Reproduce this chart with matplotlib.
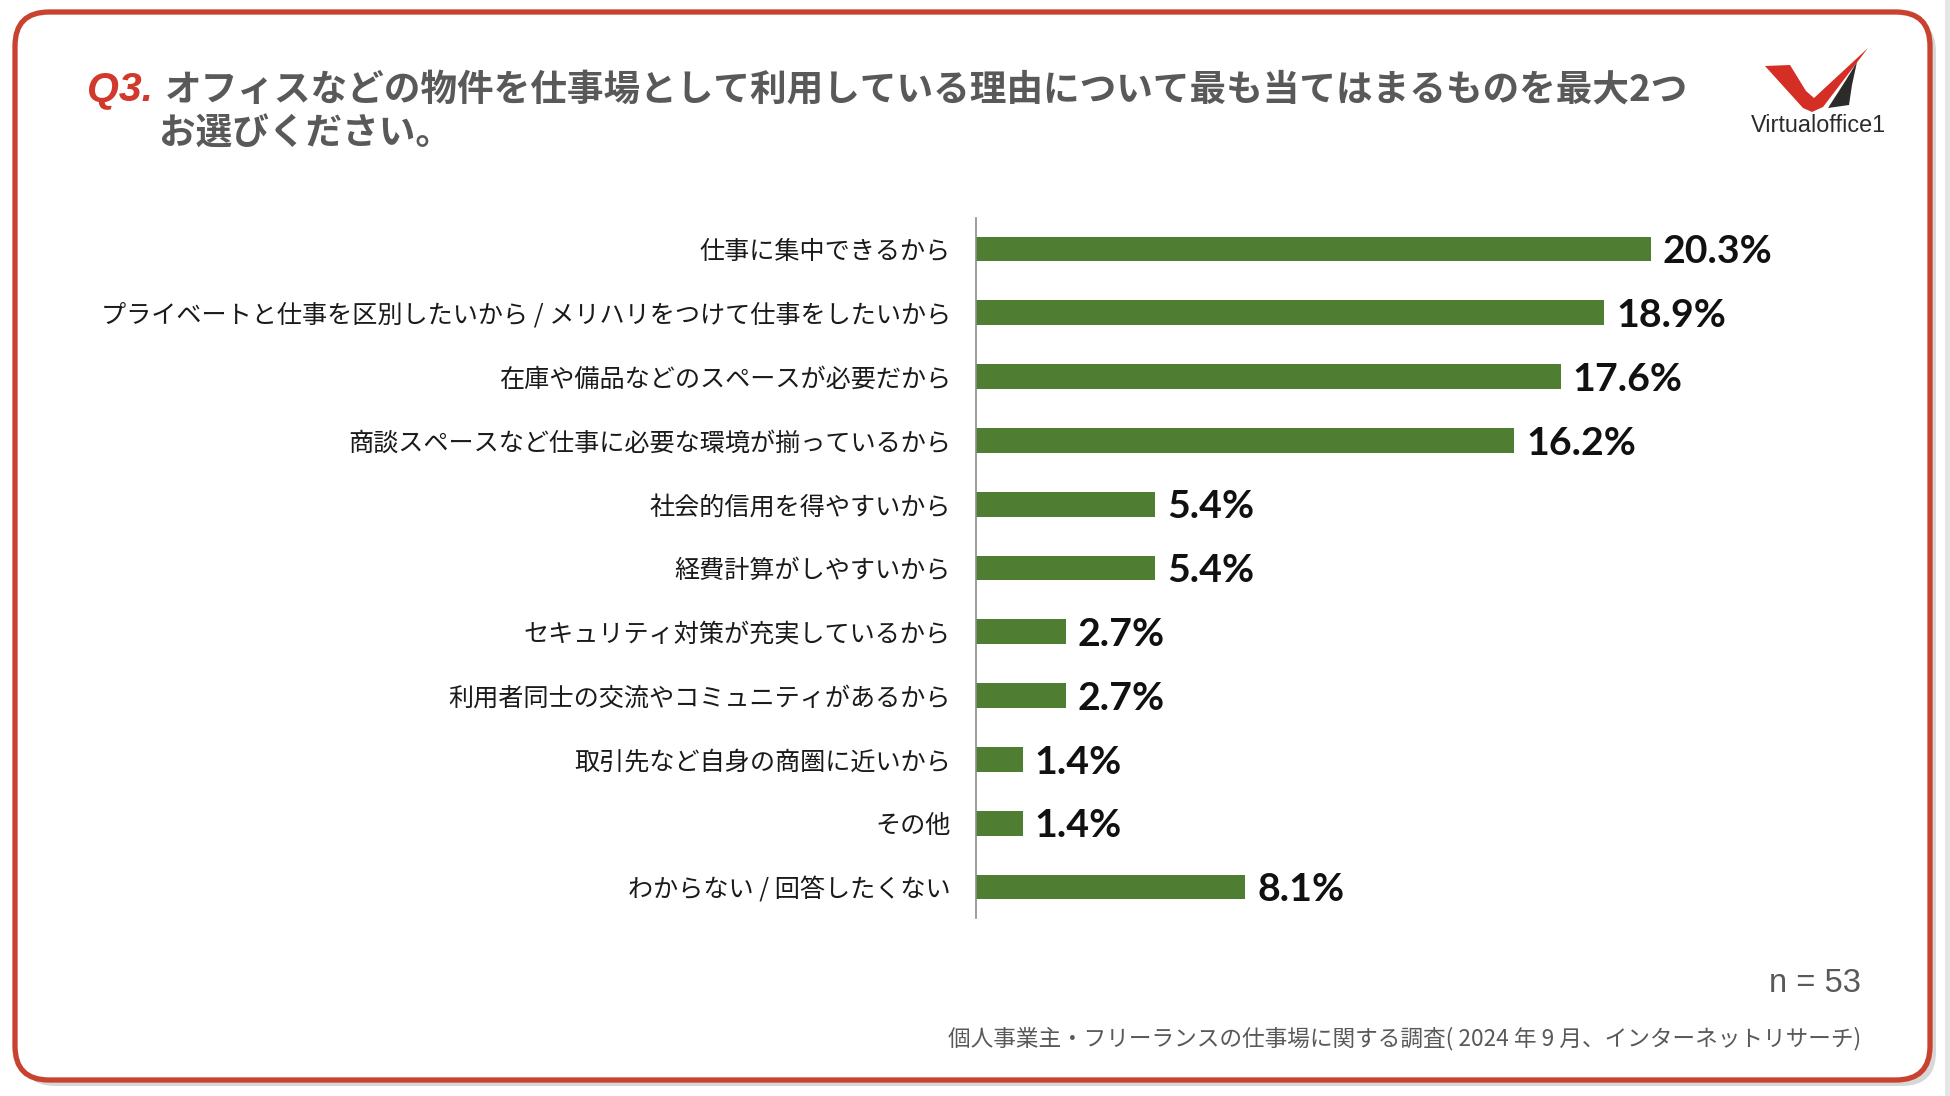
import matplotlib
matplotlib.use("Agg")
import matplotlib.pyplot as plt
from matplotlib.patches import FancyBboxPatch, Polygon, Rectangle

categories = [
    "仕事に集中できるから",
    "プライベートと仕事を区別したいから / メリハリをつけて仕事をしたいから",
    "在庫や備品などのスペースが必要だから",
    "商談スペースなど仕事に必要な環境が揃っているから",
    "社会的信用を得やすいから",
    "経費計算がしやすいから",
    "セキュリティ対策が充実しているから",
    "利用者同士の交流やコミュニティがあるから",
    "取引先など自身の商圏に近いから",
    "その他",
    "わからない / 回答したくない",
]
values = [20.3, 18.9, 17.6, 16.2, 5.4, 5.4, 2.7, 2.7, 1.4, 1.4, 8.1]

title_q = "Q3."
title_line1 = "オフィスなどの物件を仕事場として利用している理由について最も当てはまるものを最大2つ"
title_line2 = "お選びください。"
n_text = "n = 53"
source_text = "個人事業主・フリーランスの仕事場に関する調査( 2024 年 9 月、インターネットリサーチ)"
logo_text = "Virtualoffice1"

W, H = 1950, 1096
JP = ["Noto Sans CJK JP", "DejaVu Sans"]
BAR = "#4F7E33"
RED = "#C9412F"
GRAY = "#595959"

fig = plt.figure(figsize=(W / 100, H / 100), dpi=100)
fig.patch.set_facecolor("white")

# background / decoration axes in pixel coordinates
bg = fig.add_axes([0, 0, 1, 1])
bg.set_xlim(0, W)
bg.set_ylim(H, 0)
bg.axis("off")
bg.set_zorder(0)

# shadow and frame
bg.add_patch(FancyBboxPatch((21, 18), 1915, 1068, boxstyle="round,pad=0,rounding_size=34",
                            facecolor="#BDBDBD", edgecolor="none", alpha=0.6))
bg.add_patch(FancyBboxPatch((15, 12), 1915, 1068, boxstyle="round,pad=0,rounding_size=34",
                            facecolor="white", edgecolor=RED, linewidth=3.8))
bg.add_patch(Rectangle((1945, 0), 5, H, facecolor="#E6E6E6", edgecolor="none"))

# logo
bg.add_patch(Polygon([(1765, 66), (1790, 65), (1806, 91), (1814, 98), (1868, 48),
                      (1823, 107), (1812, 112), (1803, 108)],
                     closed=True, facecolor="#D42E25", edgecolor="none"))
bg.add_patch(Polygon([(1857, 62), (1846, 80), (1828, 108), (1849, 105), (1852, 85)],
                     closed=True, facecolor="#2D2A2A", edgecolor="none"))
bg.text(1818, 126, logo_text, ha="center", va="center", fontsize=16.8,
        family=["Liberation Sans"], color="#2D2A2A")

# title
bg.text(87, 90, title_q, ha="left", va="center", fontsize=29.5, color="#D0392B",
        family=["Liberation Sans"], weight="bold", style="italic")
bg.text(165, 90, title_line1, ha="left", va="center", fontsize=26.4, color=GRAY,
        family=JP, weight="bold")
bg.text(159, 134, title_line2, ha="left", va="center", fontsize=26.4, color=GRAY,
        family=JP, weight="bold")

bg.text(1861, 983, n_text, ha="right", va="center", fontsize=23.5, color=GRAY,
        family=["Liberation Sans"])
bg.text(1861, 1039, source_text, ha="right", va="center", fontsize=16.3, color=GRAY,
        family=JP)

# chart axes
ax = fig.add_axes([976 / W, 1 - 918 / H, 831 / W, 700 / H])
ax.set_zorder(1)
ax.patch.set_visible(False)
y = list(range(len(categories)))
ax.barh(y, values, height=0.39, color=BAR)
ax.set_xlim(0, 25)
ax.set_ylim(len(categories) - 1 + 0.486, -0.486)
ax.set_yticks(y)
ax.set_yticklabels(categories, family=JP, fontsize=18.1, color="#1A1A1A")
ax.tick_params(axis="y", length=0, pad=18)
ax.set_xticks([])
for s in ["top", "right", "bottom"]:
    ax.spines[s].set_visible(False)
ax.spines["left"].set_color("#8C8C8C")
ax.spines["left"].set_linewidth(1.2)

for i, v in enumerate(values):
    ax.annotate(f"{v}%", (v, i), xytext=(8.5, -2), textcoords="offset points",
                va="center", ha="left", fontsize=28.3, family=["Lato", "DejaVu Sans"],
                weight="bold", color="#111111")

fig.savefig("out.png", dpi=100, facecolor="white")
